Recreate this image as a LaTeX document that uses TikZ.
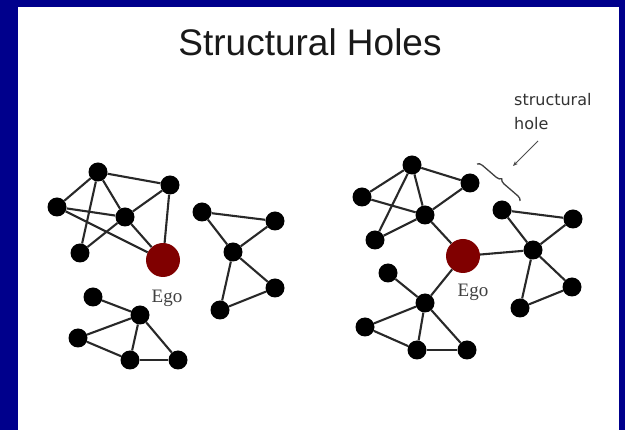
\documentclass[tikz,border=0pt]{standalone}
\usepackage{fontspec}
\setmainfont{Liberation Serif}
\newfontfamily\titlefont{Liberation Sans}
\newfontfamily\notefont{DejaVu Sans}
\usetikzlibrary{decorations.pathreplacing,arrows.meta}
\definecolor{bgblue}{RGB}{0,0,140}
\definecolor{egored}{RGB}{128,0,0}
\definecolor{edgegray}{RGB}{40,40,40}
\tikzset{
  vtx/.style={circle,fill=black,inner sep=0pt,minimum size=19pt},
  egovtx/.style={circle,fill=egored,inner sep=0pt,minimum size=34pt},
  lnk/.style={draw=edgegray,line width=2.1pt},
  egolbl/.style={font=\fontsize{19}{21}\selectfont,text=black!75,inner sep=0pt},
}
\begin{document}
\begin{tikzpicture}[x=1pt,y=-1pt]
\fill[bgblue] (0,0) rectangle (625,430);
\fill[white] (18,7) rectangle (619,430);
\useasboundingbox (0,0) rectangle (625,430);

\node[font=\titlefont\fontsize{37}{40}\selectfont,text=black!90] (title) at (310,42) {Structural Holes};

% ---------- left picture ----------
\node[vtx] (a1) at (98,172) {};
\node[vtx] (a2) at (57,207) {};
\node[vtx] (a3) at (125,217) {};
\node[vtx] (a4) at (170,185) {};
\node[vtx] (a5) at (80,253) {};
\node[egovtx] (ego1) at (163,260) {};
\node[egolbl] (egol1) at (167,298) {Ego};

\node[vtx] (b1) at (202,212) {};
\node[vtx] (b2) at (275,221) {};
\node[vtx] (b3) at (233,252) {};
\node[vtx] (b4) at (275,288) {};
\node[vtx] (b5) at (220,310) {};

\node[vtx] (c1) at (93,297) {};
\node[vtx] (c2) at (140,315) {};
\node[vtx] (c3) at (78,338) {};
\node[vtx] (c4) at (130,360) {};
\node[vtx] (c5) at (178,360) {};

% ---------- right picture ----------
\node[vtx] (d1) at (412,165) {};
\node[vtx] (d2) at (362,197) {};
\node[vtx] (d3) at (470,183) {};
\node[vtx] (d4) at (425,215) {};
\node[vtx] (d5) at (375,240) {};
\node[egovtx] (ego2) at (463,256) {};
\node[egolbl] (egol2) at (473,292) {Ego};

\node[vtx] (e1) at (502,210) {};
\node[vtx] (e2) at (573,219) {};
\node[vtx] (e3) at (533,250) {};
\node[vtx] (e4) at (572,287) {};
\node[vtx] (e5) at (520,308) {};

\node[vtx] (f1) at (388,273) {};
\node[vtx] (f2) at (425,303) {};
\node[vtx] (f3) at (365,327) {};
\node[vtx] (f4) at (417,350) {};
\node[vtx] (f5) at (467,350) {};

% edges
\foreach \u/\v in {a1/a2,a1/a4,a1/a3,a1/a5,a2/a3,a2/ego1,a3/a4,a3/a5,a3/ego1,a4/ego1,
  b1/b2,b1/b3,b2/b3,b3/b4,b3/b5,b4/b5,
  c1/c2,c2/c3,c2/c4,c2/c5,c3/c4,c4/c5,
  d1/d2,d1/d3,d1/d4,d1/d5,d2/d4,d3/d4,d4/d5,d4/ego2,
  e1/e2,e1/e3,e2/e3,e3/e4,e3/e5,e4/e5,ego2/e3,
  f1/f2,f2/ego2,f2/f3,f2/f4,f2/f5,f3/f4,f4/f5}
  \path[lnk] (\u) -- (\v);

% annotation
\node[font=\notefont\fontsize{16}{24}\selectfont,text=black!80,align=left,anchor=west,inner sep=0pt] (note) at (514,112) {structural\\hole};
\coordinate (brA) at (477,164);
\coordinate (brB) at (520,201);
\draw[black!75,line width=1.3pt,decorate,decoration={brace,amplitude=5pt}] (brA) -- (brB);
\coordinate (arS) at (538,141);
\coordinate (arE) at (513,166);
\draw[black!70,line width=1pt,-{Stealth[length=5pt,width=4pt]}] (arS) -- (arE);
\end{tikzpicture}
\end{document}
